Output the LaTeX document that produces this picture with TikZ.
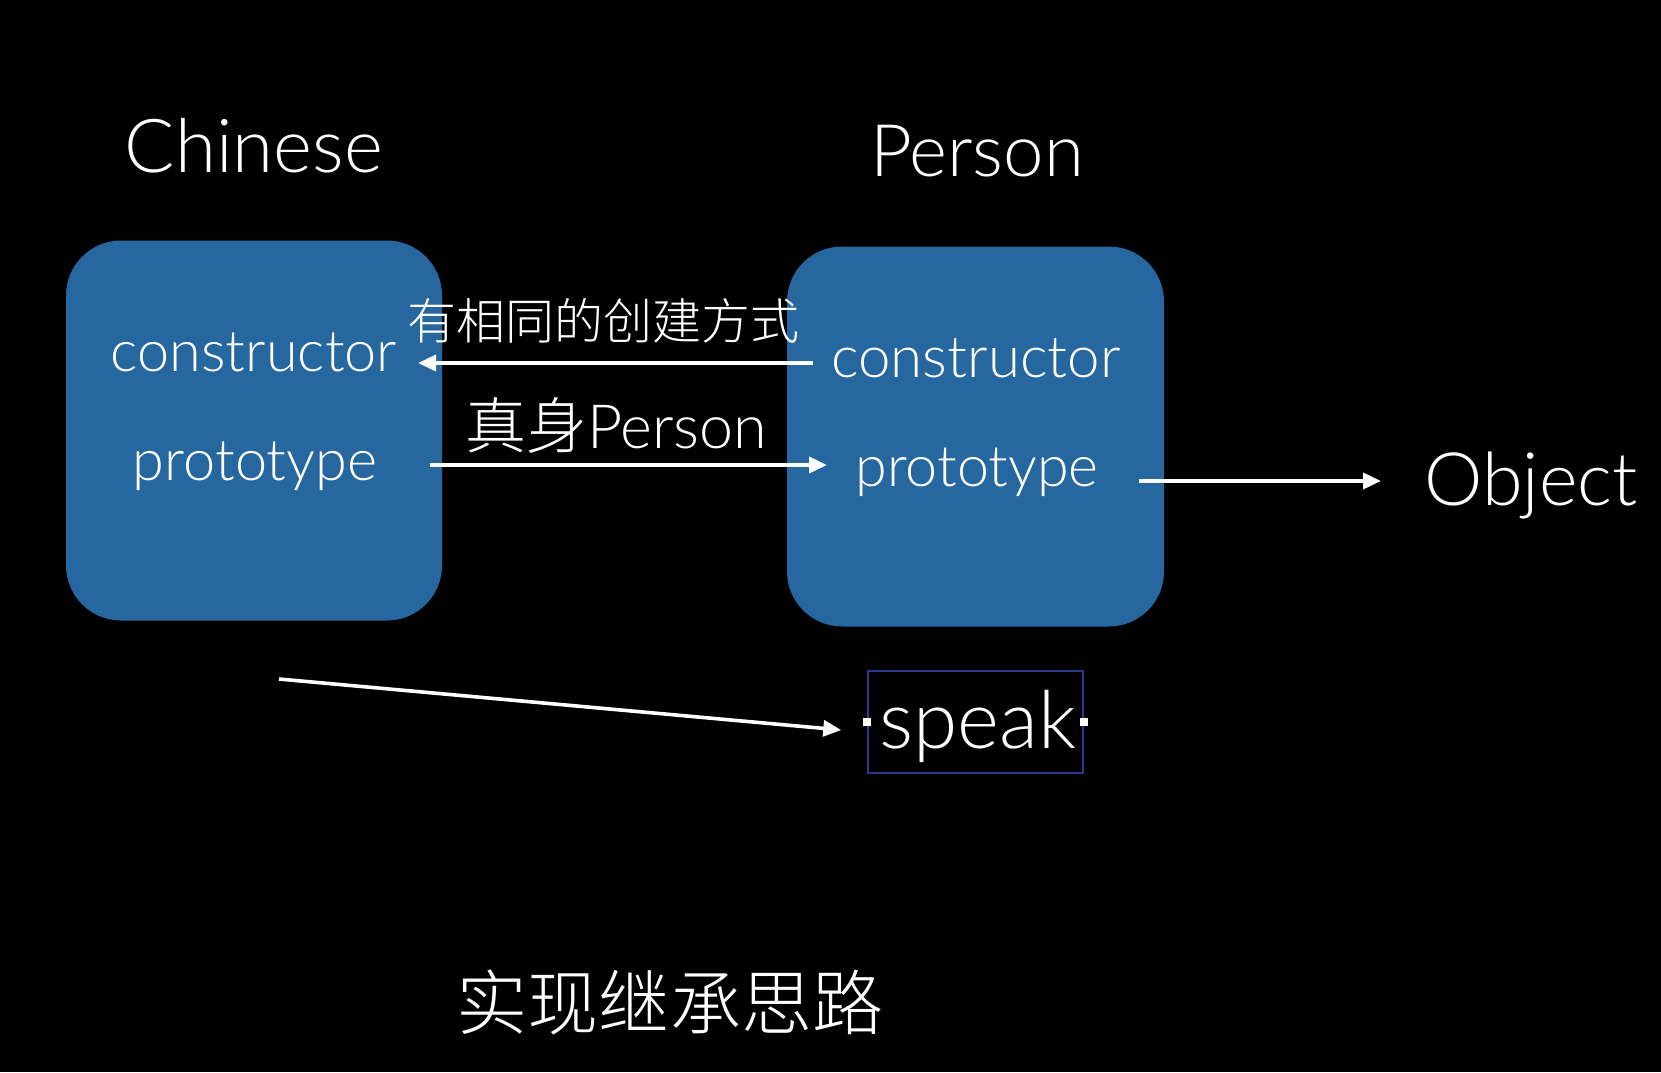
\documentclass[tikz,border=0pt]{standalone}
\usepackage{fontspec}
\usetikzlibrary{arrows.meta}
\IfFontExistsTF{Lato Light}{\setmainfont{Lato Light}}{\setmainfont{Liberation Sans}}
\IfFontExistsTF{Noto Sans CJK SC Light}{\newfontfamily\cjk{Noto Sans CJK SC Light}}{\newfontfamily\cjk{Noto Sans CJK SC}}
\definecolor{boxblue}{RGB}{38,103,160}
\definecolor{selblue}{RGB}{40,58,140}
\newcommand\fitw[2]{\resizebox{#1}{!}{#2}}
\begin{document}
\begin{tikzpicture}[x=1pt,y=-1pt,
  txt/.style={text=white, inner sep=0pt, outer sep=0pt, anchor=base, font=\fontsize{60}{64}\selectfont},
  card/.style={fill=boxblue, rounded corners=55pt, draw=none, inner sep=0pt},
  arr/.style={draw=white, line width=3.6pt, -{Triangle[length=18pt,width=16pt]}},
  handle/.style={fill=white, draw=none, minimum size=8pt, inner sep=0pt}]
\fill[black] (0,0) rectangle (1661,1072);
\useasboundingbox (0,0) rectangle (1661,1072);

% boxes
\node[card, minimum width=376pt, minimum height=380pt] (lbox) at (254,430.5) {};
\node[card, minimum width=377pt, minimum height=380pt] (rbox) at (975.5,436.5) {};

% titles
\node[txt] (tchinese) at (254,172) {\fitw{258pt}{Chinese}};
\node[txt] (tperson) at (977,176) {\fitw{214pt}{Person}};
\node[txt] (tobject) at (1531,505) {\fitw{213pt}{Object}};

% box texts
\node[txt] (lcons) at (254,371) {\fitw{286pt}{constructor}};
\node[txt] (lproto) at (255,480) {\fitw{244pt}{prototype}};
\node[txt] (rcons) at (976,377) {\fitw{289pt}{constructor}};
\node[txt] (rproto) at (977,486) {\fitw{243pt}{prototype}};

% edge labels
\node[txt, anchor=center] (lab1) at (603,321) {\fitw{392pt}{\cjk 有相同的创建方式}};
\node[txt] (lab2) at (616,448) {\fitw{302pt}{{\cjk 真身}Person}};

% speak
\node[draw=selblue, line width=1.5pt, minimum width=215pt, minimum height=102pt, inner sep=0pt] (sbox) at (975.5,722) {};
\node[txt] (speak) at (978,748) {\fitw{197pt}{speak}};
\node[handle] (h1) at (sbox.west) {};
\node[handle] (h2) at (sbox.east) {};

% bottom title
\node[txt, anchor=center] (bottom) at (670,1002) {\fitw{427pt}{\cjk 实现继承思路}};

% connectors
\coordinate (u1) at (813,363);
\coordinate (u2) at (418,363);
\coordinate (d1) at (430,465);
\coordinate (d2) at (827,465);
\coordinate (o1) at (1139,481);
\coordinate (o2) at (1381,481);
\coordinate (s1) at (279,679);
\draw[arr] (u1) -- (u2);
\draw[arr] (d1) -- (d2);
\draw[arr] (o1) -- (o2);
\draw[arr] (s1) -- ([xshift=-26pt,yshift=-8pt]sbox.west);
\end{tikzpicture}
\end{document}
